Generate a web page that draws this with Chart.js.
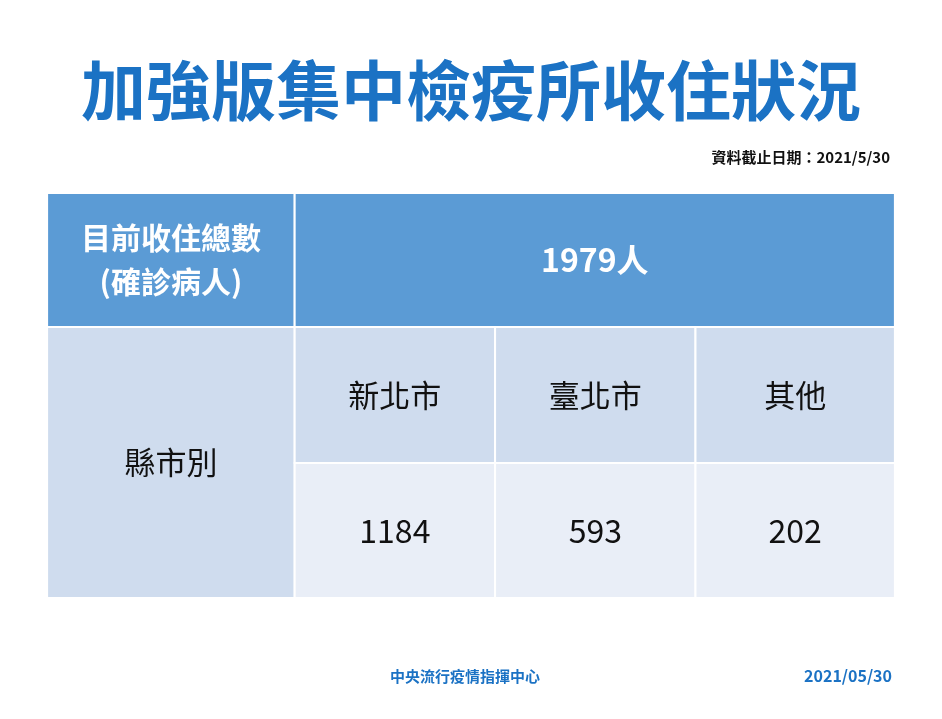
<!DOCTYPE html>
<html><head><meta charset="utf-8">
<script src="https://cdn.jsdelivr.net/npm/chart.js@4"></script>
<style>body{margin:0;background:#fff}</style>
</head><body>
<canvas id="c" width="942" height="719"></canvas>
<script>
// table grid (in scale units) and contents
var colEdges = [0, 252, 456, 660, 863];
var rowEdges = [0, 134, 270, 405];
var totalLabel = ["目前收住總數", "(確診病人)"];
var totalValue = "1979人";
var regionLabel = "縣市別";
var regions = ["新北市", "臺北市", "其他"];
var counts = [1184, 593, 202];

var font = '"Noto Sans CJK TC", "Noto Sans", sans-serif';

function cell(ctx, x, y, c0, c1, r0, r1, fill) {
    var x0 = x.getPixelForValue(colEdges[c0]), x1 = x.getPixelForValue(colEdges[c1]);
    var y0 = y.getPixelForValue(rowEdges[r0]), y1 = y.getPixelForValue(rowEdges[r1]);
    ctx.fillStyle = fill;
    ctx.fillRect(x0, y0, x1 - x0, y1 - y0);
    ctx.strokeStyle = "#ffffff";
    ctx.lineWidth = 2;
    ctx.strokeRect(x0, y0, x1 - x0, y1 - y0);
    return [(x0 + x1) / 2, (y0 + y1) / 2];
}

function text(ctx, s, px, py, size, color, weight, align) {
    ctx.font = (weight || "bold") + " " + size + "px " + font;
    ctx.fillStyle = color;
    ctx.textAlign = align || "center";
    ctx.textBaseline = "middle";
    ctx.fillText(s, px, py);
}

var tablePlugin = {
    id: "table",
    beforeDatasetsDraw(chart) {
        var ctx = chart.ctx, x = chart.scales.x, y = chart.scales.y;
        ctx.save();
        var m = cell(ctx, x, y, 0, 1, 0, 1, "#5b9bd5");
        text(ctx, totalLabel[0], m[0], m[1] - 22, 30, "#fff");
        text(ctx, totalLabel[1], m[0], m[1] + 22, 30, "#fff");
        m = cell(ctx, x, y, 1, 4, 0, 1, "#5b9bd5");
        text(ctx, totalValue, m[0], m[1], 32, "#fff");
        m = cell(ctx, x, y, 0, 1, 1, 3, "#cfdcee");
        text(ctx, regionLabel, m[0], m[1], 31, "#111", "normal");
        regions.forEach(function (r, i) {
            var a = cell(ctx, x, y, i + 1, i + 2, 1, 2, "#cfdcee");
            text(ctx, r, a[0], a[1], 31, "#111", "normal");
            a = cell(ctx, x, y, i + 1, i + 2, 2, 3, "#e9eef7");
            text(ctx, String(counts[i]), a[0], a[1], 32, "#111", "normal");
        });
        text(ctx, "加強版集中檢疫所收住狀況", 471, 90, 65, "#1b72c4");
        text(ctx, "資料截止日期：2021/5/30", 890, 157, 15, "#111", "bold", "right");
        text(ctx, "中央流行疫情指揮中心", 465, 676, 15, "#1b72c4");
        text(ctx, "2021/05/30", 892, 676, 16, "#1b72c4", "bold", "right");
        ctx.restore();
    }
};

new Chart(document.getElementById("c"), {
    type: "bar",
    data: { labels: [], datasets: [] },
    options: {
        responsive: false,
        animation: false,
        layout: { padding: { left: -7, right: -2, top: 193, bottom: 121 } },
        plugins: { legend: { display: false }, tooltip: { enabled: false } },
        scales: {
            x: { type: "linear", min: 0, max: 863, display: false },
            y: { type: "linear", min: 0, max: 405, reverse: true, display: false }
        }
    },
    plugins: [tablePlugin]
});
</script>
</body></html>
